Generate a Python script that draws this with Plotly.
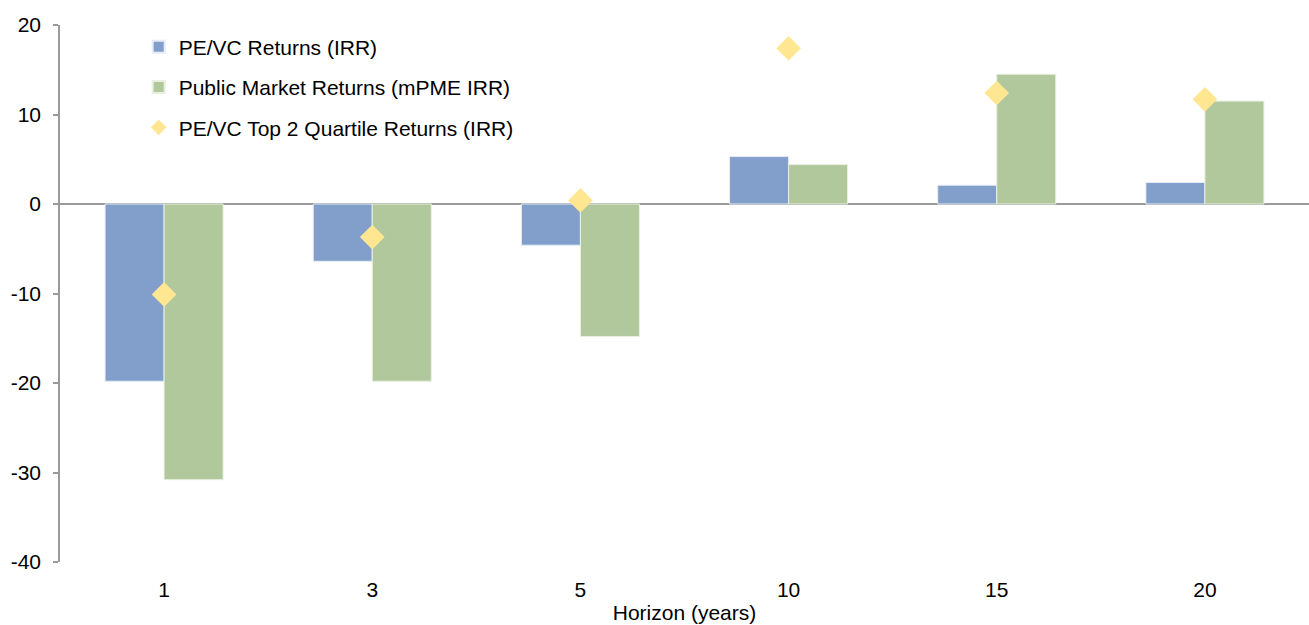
import plotly.graph_objects as go

# Horizon buckets (years) and returns in %
horizons = ["1", "3", "5", "10", "15", "20"]
pevc_irr = [-19.8, -6.4, -4.6, 5.3, 2.1, 2.4]
public_mpme_irr = [-30.8, -19.8, -14.8, 4.4, 14.5, 11.5]
top2_quartile_irr = [-10.1, -3.7, 0.4, 17.4, 12.4, 11.7]

y_ticks = [-40, -30, -20, -10, 0, 10, 20]
y_tick_text = [str(v) for v in y_ticks]

FONT = "Liberation Sans, Arial, sans-serif"
FS = 21
BLUE = "#829ECB"
GREEN = "#B1C89D"
YELLOW = "#FFE792"

fig = go.Figure()
fig.add_trace(go.Bar(
    x=horizons, y=pevc_irr, name="PE/VC Returns (IRR)",
    marker=dict(color=BLUE, line=dict(color="#E6ECF5", width=1)),
    legendgroup="a",
))
fig.add_trace(go.Bar(
    x=horizons, y=public_mpme_irr, name="Public Market Returns (mPME IRR)",
    marker=dict(color=GREEN, line=dict(color="#E9F0E2", width=1)),
    legendgroup="b",
))
fig.add_trace(go.Scatter(
    x=horizons, y=top2_quartile_irr, name="PE/VC Top 2 Quartile Returns (IRR)",
    mode="markers",
    marker=dict(symbol="diamond", size=19, color=YELLOW, line=dict(width=0)),
    legendgroup="c",
))

fig.update_layout(
    width=1309, height=625,
    margin=dict(l=60, r=0, t=25, b=63),
    paper_bgcolor="white", plot_bgcolor="white",
    font=dict(family=FONT, size=FS, color="#000000"),
    barmode="group", bargap=0.433, bargroupgap=0,
    showlegend=True,
    legend=dict(
        x=0.063, y=0.997, xanchor="left", yanchor="top",
        bgcolor="rgba(0,0,0,0)", borderwidth=0,
        font=dict(family=FONT, size=FS, color="#000000"),
        traceorder="grouped", tracegroupgap=10,
        itemsizing="constant",
    ),
    xaxis=dict(
        type="category", range=[-0.5, 5.5],
        showline=False, showgrid=False, zeroline=False,
        ticks="", ticklabelstandoff=13,
        tickfont=dict(family=FONT, size=FS),
        title=dict(text="Horizon (years)", font=dict(family=FONT, size=FS), standoff=5),
    ),
    yaxis=dict(
        range=[-40, 20], tickvals=y_ticks, ticktext=y_tick_text,
        showgrid=False,
        showline=True, linecolor="#9A9A9A", linewidth=1.5,
        ticks="outside", ticklen=5, tickcolor="#9A9A9A", tickwidth=1.5,
        zeroline=True, zerolinecolor="#9A9A9A", zerolinewidth=2,
        tickfont=dict(family=FONT, size=FS),
        ticklabelstandoff=8,
    ),
)

fig.write_html("out.html")
